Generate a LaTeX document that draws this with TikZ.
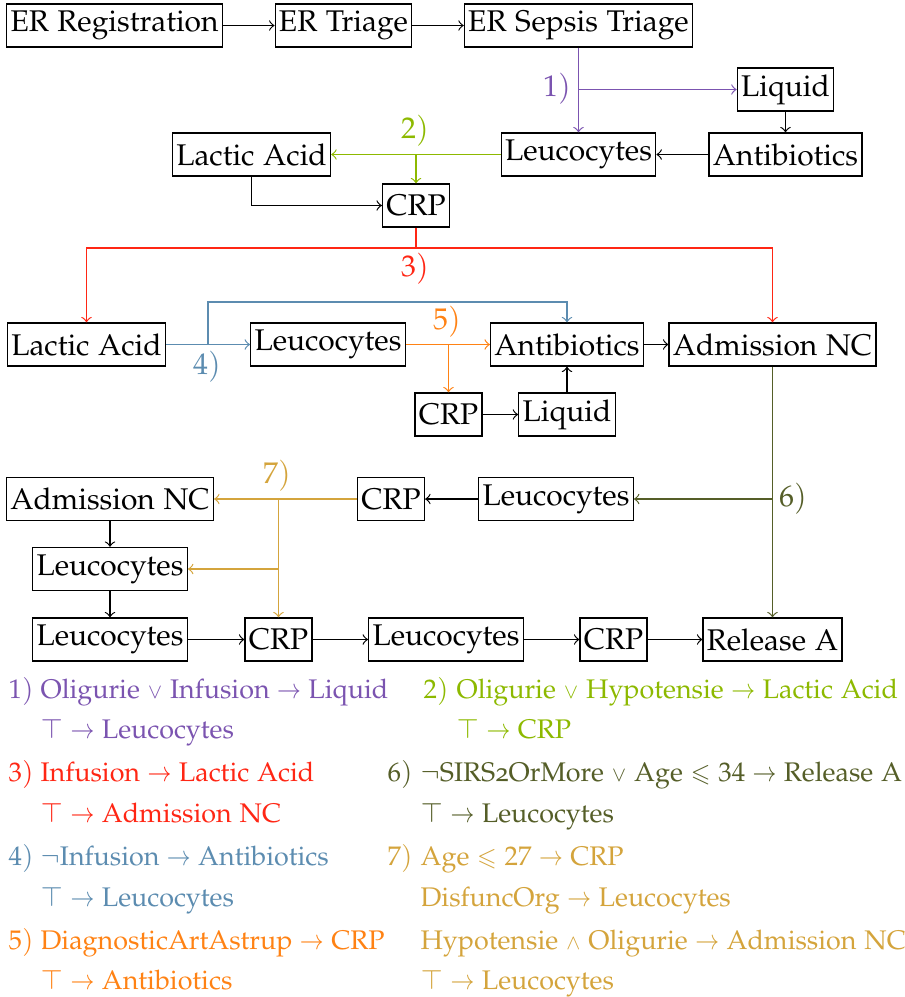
\documentclass[tikz,border=0pt]{standalone}
\usepackage[T1]{fontenc}
\usepackage[osf]{mathpazo}
\usepackage{amssymb}
\usepackage{graphicx}

\definecolor{cA}{RGB}{123,84,176}
\definecolor{cB}{RGB}{141,185,0}
\definecolor{cC}{RGB}{255,38,20}
\definecolor{cD}{RGB}{92,140,176}
\definecolor{cE}{RGB}{255,130,20}
\definecolor{cF}{RGB}{85,94,40}
\definecolor{cG}{RGB}{212,164,60}

% connectives used in the rules
\newcommand{\impl}{\hspace{2.4pt}\scalebox{0.85}[1]{$\rightarrow$}\hspace{2.4pt}}
\newcommand{\disj}{\scalebox{0.75}{$\vee$}}
\newcommand{\conj}{\scalebox{0.75}{$\wedge$}}
\newcommand{\leqs}{\scalebox{0.9}{$\leqslant$}}

\tikzset{
  box/.style={draw, inner xsep=1.3pt, inner ysep=0pt, minimum height=14.4pt},
  flow/.style={->},
  lbl/.style={inner sep=0pt},
  leg/.style={anchor=base west, inner sep=0pt, font=\fontsize{9}{11}\selectfont}
}

\begin{document}
\begin{tikzpicture}[x=0.3344pt, y=-0.3344pt]
\useasboundingbox (0,0) rectangle (905,997);

% ---- states ----
\node[box] (reg)  at (114.5,25.5) {ER Registration};
\node[box] (tri)  at (343.5,25.5) {ER Triage};
\node[box] (sep)  at (578.5,25.5) {ER Sepsis Triage};
\node[box] (liqA) at (785.5,89.5) {Liquid};
\node[box] (leuA) at (578.5,154.5) {Leucocytes};
\node[box] (antA) at (785.5,154.5) {Antibiotics};
\node[box] (lacA) at (251.5,154.5) {Lactic Acid};
\node[box] (crpA) at (416,205.5) {CRP};

\node[box] (lacB) at (86.5,344.5) {Lactic Acid};
\node[box] (leuB) at (328,344.5) {Leucocytes};
\node[box] (antB) at (567,344.5) {Antibiotics};
\node[box] (admB) at (772.5,344.5) {Admission NC};
\node[box] (crpB) at (448.5,414.5) {CRP};
\node[box] (liqB) at (567,414.5) {Liquid};

\node[box] (admC) at (110,499) {Admission NC};
\node[box] (crpC) at (391,499) {CRP};
\node[box] (leuC) at (556,499) {Leucocytes};
\node[box] (leuD) at (110,569) {Leucocytes};
\node[box] (leuE) at (110,639.5) {Leucocytes};
\node[box] (crpE) at (278.5,639.5) {CRP};
\node[box] (leuF) at (446,639.5) {Leucocytes};
\node[box] (crpF) at (613.5,639.5) {CRP};
\node[box] (relF) at (772.5,639.5) {Release A};

% ---- plain transitions ----
\draw[flow] (reg) -- (tri);
\draw[flow] (tri) -- (sep);
\draw[flow] (liqA) -- (antA);
\draw[flow] (antA) -- (leuA);
\draw[flow] (lacA.south) |- (crpA.west);
\draw[flow] (antB) -- (admB);
\draw[flow] (crpB) -- (liqB);
\draw[flow] (liqB) -- (antB);
\draw[flow] (leuC) -- (crpC);
\draw[flow] (admC.south -| leuD) -- (leuD);
\draw[flow] (leuD) -- (leuE);
\draw[flow] (leuE) -- (crpE);
\draw[flow] (crpE) -- (leuF);
\draw[flow] (leuF) -- (crpF);
\draw[flow] (crpF) -- (relF);

% ---- 1) ----
\coordinate (b1) at (578.5,89.5);
\draw[flow, cA] (sep) -- (leuA);
\draw[flow, cA] (b1) -- (liqA);
\node[lbl, text=cA] (l1) at (557,89) {$1)$};

% ---- 2) ----
\coordinate (b2) at (416,154.5);
\draw[flow, cB] (leuA) -- (lacA);
\draw[flow, cB] (b2) -- (crpA);
\node[lbl, text=cB] (l2) at (415,131) {$2)$};

% ---- 3) ----
\coordinate (b3) at (416,248);
\draw[cC] (crpA) -- (b3);
\draw[flow, cC] (b3) -| (lacB.north);
\draw[flow, cC] (b3) -| (admB.north);
\node[lbl, text=cC] (l3) at (415,269) {$3)$};

% ---- 4) ----
\coordinate (b4) at (208,344.5);
\coordinate (b4t) at (208,302);
\draw[flow, cD] (lacB) -- (leuB);
\draw[flow, cD] (b4) -- (b4t) -| (antB.north);
\node[lbl, text=cD] (l4) at (207,367) {$4)$};

% ---- 5) ----
\coordinate (b5) at (448.5,344.5);
\draw[flow, cE] (leuB) -- (antB);
\draw[flow, cE] (b5) -- (crpB);
\node[lbl, text=cE] (l5) at (447,322) {$5)$};

% ---- 6) ----
\coordinate (b6) at (772.5,499);
\draw[flow, cF] (admB) -- (relF);
\draw[flow, cF] (b6) -- (leuC);
\node[lbl, text=cF] (l6) at (793,499) {$6)$};

% ---- 7) ----
\coordinate (b7) at (278.5,499);
\coordinate (b7b) at (278.5,569);
\draw[flow, cG] (crpC) -- (admC);
\draw[flow, cG] (b7) -- (crpE);
\draw[flow, cG] (b7b) -- (leuD);
\node[lbl, text=cG] (l7) at (277,476) {$7)$};

% ---- rules ----
\begin{scope}[every node/.style={leg}]
\node[text=cA] (n1)  at (8,698)  {$1)$};
\node[text=cA] (r1a) at (40,698) {Oligurie \disj{} Infusion\impl Liquid};
\node[text=cA] (r1b) at (40,738) {$\top$\impl Leucocytes};

\node[text=cC] (n3)  at (8,781)  {$3)$};
\node[text=cC] (r3a) at (40,781) {Infusion\impl Lactic Acid};
\node[text=cC] (r3b) at (40,822) {$\top$\impl Admission NC};

\node[text=cD] (n4)  at (8,865)  {$4)$};
\node[text=cD] (r4a) at (40,865) {$\neg$Infusion\impl Antibiotics};
\node[text=cD] (r4b) at (40,906) {$\top$\impl Leucocytes};

\node[text=cE] (n5)  at (8,949)  {$5)$};
\node[text=cE] (r5a) at (40,949) {DiagnosticArtAstrup\impl CRP};
\node[text=cE] (r5b) at (40,989) {$\top$\impl Antibiotics};

\node[text=cB] (n2)  at (423,698) {$2)$};
\node[text=cB] (r2a) at (456,698) {Oligurie \disj{} Hypotensie\impl Lactic Acid};
\node[text=cB] (r2b) at (456,738) {$\top$\impl CRP};

\node[text=cF] (n6)  at (387,781) {$6)$};
\node[text=cF] (r6a) at (420,781) {$\neg$SIRS2OrMore \disj{} Age \leqs{} $34$\impl Release A};
\node[text=cF] (r6b) at (420,822) {$\top$\impl Leucocytes};

\node[text=cG] (n7)  at (387,865) {$7)$};
\node[text=cG] (r7a) at (420,865) {Age \leqs{} $27$\impl CRP};
\node[text=cG] (r7b) at (420,906) {DisfuncOrg\impl Leucocytes};
\node[text=cG] (r7c) at (420,949) {Hypotensie \conj{} Oligurie\impl Admission NC};
\node[text=cG] (r7d) at (420,989) {$\top$\impl Leucocytes};
\end{scope}
\end{tikzpicture}
\end{document}
